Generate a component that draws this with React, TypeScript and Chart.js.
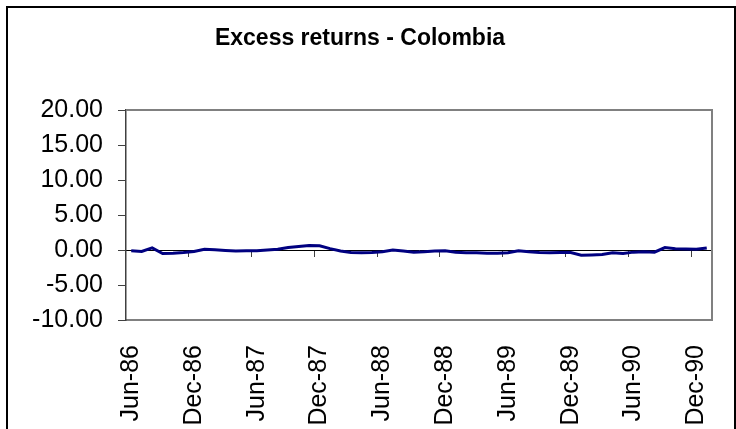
import React, { useEffect, useRef } from "react";
import { Chart, registerables } from "chart.js";

Chart.register(...registerables);

const MONTHS = ["Jan", "Feb", "Mar", "Apr", "May", "Jun", "Jul", "Aug", "Sep", "Oct", "Nov", "Dec"];
const startYear = 1986;
const startMonth = 5; // Jun
const monthCount = 56; // Jun-86 .. Jan-91

const categories: string[] = Array.from({ length: monthCount }, (_, i) => {
  const m = (startMonth + i) % 12;
  const y = startYear + Math.floor((startMonth + i) / 12);
  return `${MONTHS[m]}-${String(y % 100).padStart(2, "0")}`;
});

const excessReturns: number[] = [
  -0.1, -0.2, 0.3, -0.5, -0.45, -0.35, -0.2, 0.1, 0.05, -0.05,
  -0.15, -0.1, -0.1, 0.0, 0.1, 0.35, 0.5, 0.65, 0.6, 0.2,
  -0.15, -0.35, -0.4, -0.35, -0.25, 0.0, -0.15, -0.3, -0.25, -0.15,
  -0.1, -0.3, -0.4, -0.4, -0.45, -0.45, -0.4, -0.1, -0.25, -0.35,
  -0.4, -0.35, -0.35, -0.75, -0.7, -0.65, -0.4, -0.5, -0.3, -0.25,
  -0.3, 0.35, 0.2, 0.15, 0.1, 0.3,
];

const yMin = -10;
const yMax = 20;
const yStep = 5;
const labelEvery = 6;

const titleText = "Excess returns - Colombia";
const FONT = '"Liberation Sans", Arial, Helvetica, sans-serif';

const framePlugin = {
  id: "plotFrame",
  beforeDatasetsDraw(chart: any) {
    const { ctx, chartArea } = chart;
    const { left, right, top, bottom } = chartArea;
    ctx.save();
    ctx.strokeStyle = "#808080";
    ctx.lineWidth = 2;
    ctx.beginPath();
    ctx.moveTo(left, top);
    ctx.lineTo(right, top);
    ctx.lineTo(right, bottom);
    ctx.stroke();
    ctx.restore();
  },
};

export default function App() {
  const canvasRef = useRef<HTMLCanvasElement | null>(null);

  useEffect(() => {
    if (!canvasRef.current) return;
    const chart = new Chart(canvasRef.current, {
      type: "line",
      data: {
        labels: categories,
        datasets: [
          {
            label: "Excess returns",
            data: excessReturns,
            borderColor: "#000080",
            borderWidth: 3,
            pointRadius: 0,
            tension: 0,
            fill: false,
          },
        ],
      },
      options: {
        responsive: false,
        animation: false,
        devicePixelRatio: 1,
        layout: { padding: { left: 0, right: 22, top: 0, bottom: 0 } },
        plugins: {
          legend: { display: false },
          tooltip: { enabled: false },
          title: {
            display: true,
            text: titleText,
            color: "#000",
            font: { family: FONT, size: 23, weight: "bold" },
            padding: { top: 17, bottom: 57.5 },
          },
        },
        scales: {
          x: {
            type: "category",
            offset: true,
            grid: { display: false },
            border: { display: true, color: "#808080", width: 2 },
            ticks: {
              autoSkip: false,
              minRotation: 90,
              maxRotation: 90,
              padding: 17,
              color: "#000",
              font: { family: FONT, size: 25 },
              callback: function (this: any, val: any, index: number) {
                return index % labelEvery === 0 ? this.getLabelForValue(val) : "";
              },
            },
            afterFit: (scale: any) => {
              scale.height = 118;
              scale.paddingLeft = 0;
              scale.paddingRight = 0;
            },
          },
          x2: {
            type: "category",
            position: { y: 0 } as any,
            offset: true,
            grid: {
              offset: true,
              drawOnChartArea: false,
              drawTicks: true,
              tickLength: 6,
              lineWidth: 1,
              color: (ctx: any) =>
                typeof ctx.index === "number" && ctx.index % labelEvery === 0 && ctx.index > 0
                  ? "#404040"
                  : "rgba(0,0,0,0)",
            },
            border: { display: true, color: "#000", width: 1 },
            ticks: { display: false, autoSkip: false },
            afterFit: (scale: any) => {
              scale.paddingLeft = 0;
              scale.paddingRight = 0;
            },
          },
          y: {
            type: "linear",
            min: yMin,
            max: yMax,
            ticks: {
              stepSize: yStep,
              padding: 15,
              color: "#000",
              font: { family: FONT, size: 25 },
              callback: (v: any) => Number(v).toFixed(2),
            },
            grid: {
              drawOnChartArea: false,
              drawTicks: true,
              tickLength: 8,
              color: "#404040",
              lineWidth: 1,
            },
            border: { display: true, color: "#404040", width: 1.5 },
            afterFit: (scale: any) => {
              scale.width = 118;
            },
          },
        },
      },
      plugins: [framePlugin],
    });
    return () => chart.destroy();
  }, []);

  return (
    <div
      style={{
        position: "fixed",
        left: 0,
        top: 0,
        width: 736,
        height: 429,
        overflow: "hidden",
        background: "#fff",
      }}
    >
      <div
        style={{
          position: "absolute",
          left: 6,
          top: 6,
          width: 730,
          height: 460,
          boxSizing: "border-box",
          border: "2px solid #000",
          background: "#fff",
        }}
      >
        <canvas ref={canvasRef} width={726} height={430} style={{ display: "block" }} />
      </div>
    </div>
  );
}
